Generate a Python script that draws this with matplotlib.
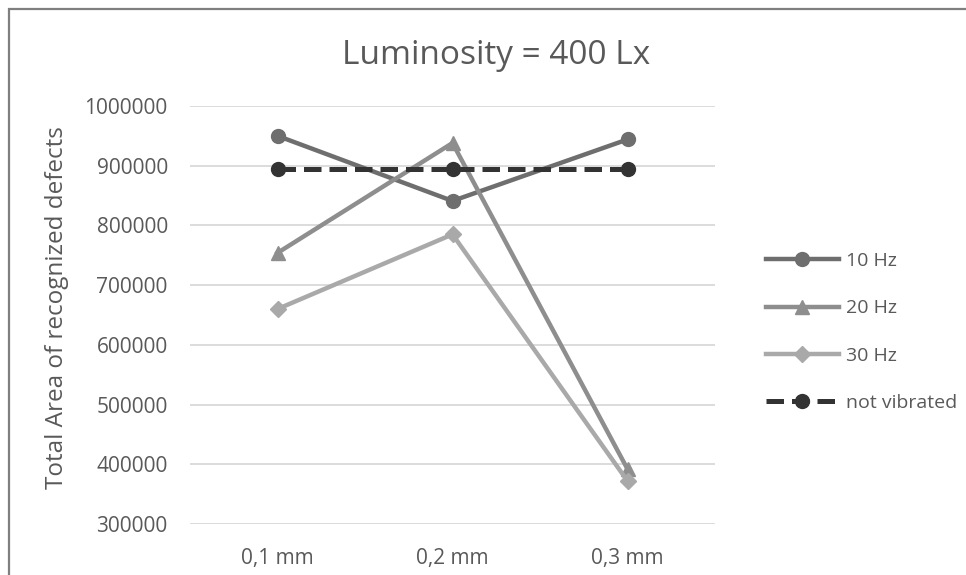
import matplotlib.pyplot as plt
from matplotlib.patches import Rectangle

plt.rcParams['font.family'] = ['Open Sans', 'DejaVu Sans']

categories = ["0,1 mm", "0,2 mm", "0,3 mm"]
hz10 = [950000, 841000, 944000]
hz20 = [754000, 938000, 392000]
hz30 = [660000, 785000, 372000]
not_vibrated = [895000, 895000, 895000]
yticks = [300000, 400000, 500000, 600000, 700000, 800000, 900000, 1000000]

text_col = "#595959"

fig = plt.figure(figsize=(9.66, 5.75), dpi=100)
ax = fig.add_axes([190/966, 1 - 524/575, 525/966, 418/575])

x = range(len(categories))
ax.plot(x, hz10, color="#6e6e6e", lw=3.2, marker="o", ms=10, label="10 Hz", zorder=3)
ax.plot(x, hz20, color="#8e8e8e", lw=3.2, marker="^", ms=10, label="20 Hz", zorder=3)
ax.plot(x, hz30, color="#a9a9a9", lw=3.2, marker="D", ms=8, label="30 Hz", zorder=3)
ax.plot(x, not_vibrated, color="#333333", lw=3.6, ls=(0, (3.5, 1.6)), marker="o", ms=10,
        label="not vibrated", zorder=4)

ax.set_xlim(-0.5, 2.5)
ax.set_ylim(300000, 1000000)
ax.set_xticks(list(x))
ax.set_xticklabels(categories)
ax.set_yticks(yticks)
ax.set_yticklabels([str(t) for t in yticks])
ax.tick_params(length=0, labelsize=15, colors=text_col, pad=16)
ax.tick_params(axis="x", pad=17)
ax.grid(axis="y", color="#d9d9d9", lw=1.3)
ax.set_axisbelow(True)
for s in ax.spines.values():
    s.set_visible(False)

fig.text(496/966, 1 - 55/575, "Luminosity = 400 Lx", ha="center", va="center",
         fontsize=24, color=text_col)
fig.text(57/966, 1 - 308/575, "Total Area of recognized defects", ha="center", va="center",
         rotation=90, fontsize=17.5, color=text_col)

leg = ax.legend(loc="center left", bbox_to_anchor=(748/966, 1 - 332/575),
                bbox_transform=fig.transFigure, frameon=False, fontsize=14,
                handlelength=3.8, handletextpad=0.35, labelspacing=1.5)
for t in leg.get_texts():
    t.set_color(text_col)

fig.patches.append(Rectangle((9/966, -0.1), 1.2, 1 - 9/575 + 0.1, transform=fig.transFigure,
                             fill=False, edgecolor="#7f7f7f", lw=1.6))

fig.savefig("out.png", dpi=100)
